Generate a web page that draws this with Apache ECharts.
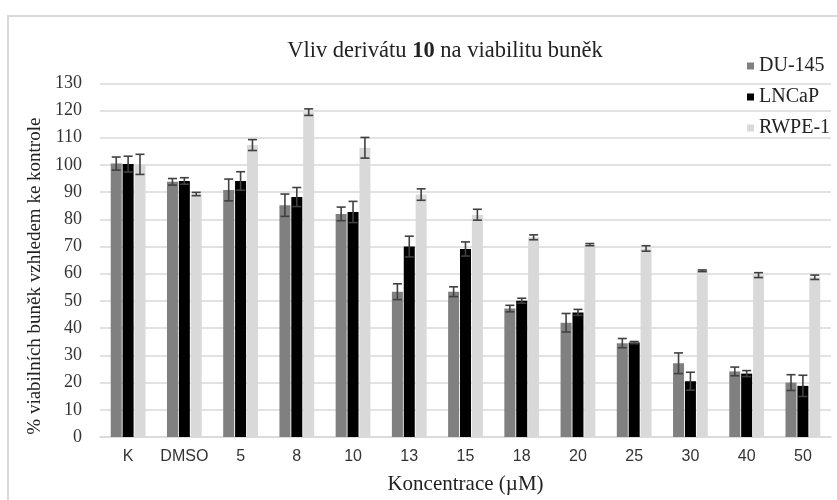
<!DOCTYPE html>
<html>
<head>
<meta charset="utf-8">
<script src="https://cdn.jsdelivr.net/npm/echarts@6/dist/echarts.min.js"></script>
<style>html,body{margin:0;padding:0;background:#fff;}#c{width:837px;height:500px;}</style>
</head>
<body>
<div id="c"></div>
<script>
const categories = ['K', 'DMSO', '5', '8', '10', '13', '15', '18', '20', '25', '30', '40', '50'];
const seriesNames = ['DU-145', 'LNCaP', 'RWPE-1'];
const du145 = [100.5, 93.8, 90.8, 85.2, 82.0, 53.4, 53.4, 47.2, 42.0, 34.5, 27.1, 24.1, 20.0];
const du145Err = [2.4, 1.2, 4.0, 4.1, 2.5, 2.9, 1.8, 1.2, 3.4, 1.7, 3.8, 1.6, 2.9];
const lncap = [100.3, 94.1, 94.1, 88.2, 82.7, 70.0, 69.1, 50.1, 45.8, 34.7, 20.5, 23.3, 18.8];
const lncapErr = [2.9, 1.2, 3.4, 3.5, 3.9, 3.8, 2.6, 0.9, 1.1, 0.4, 3.3, 1.1, 3.9];
const rwpe1 = [100.2, 89.3, 107.3, 119.4, 106.3, 89.1, 81.7, 73.4, 70.7, 69.3, 61.1, 59.5, 58.7];
const rwpe1Err = [3.7, 0.6, 2.0, 1.2, 3.8, 2.1, 2.0, 0.9, 0.4, 1.0, 0.3, 0.9, 0.8];
const yTicks = {min: 0, max: 130, interval: 10};

const values = [du145, lncap, rwpe1];
const errors = [du145Err, lncapErr, rwpe1Err];
const colors = ['#808080', '#000000', '#d9d9d9'];
const BAR_W = 11, GAP = 0.88;

const chart = echarts.init(document.getElementById('c'));
const serif = '"Liberation Serif", "Times New Roman", serif';
const sans = '"Liberation Sans", Arial, sans-serif';

const series = [];
values.forEach((vals, s) => {
  series.push({
    name: seriesNames[s], type: 'bar', data: vals, barWidth: BAR_W, barGap: '8%',
    itemStyle: {color: colors[s]}, z: 2
  });
});
values.forEach((vals, s) => {
  const offset = (s - 1) * (BAR_W + GAP);
  series.push({
    name: seriesNames[s] + ' err', type: 'custom', z: 5,
    data: vals.map((v, i) => [i, v - errors[s][i], v + errors[s][i]]),
    renderItem: function (params, api) {
      const lo = api.coord([api.value(0), api.value(1)]);
      const hi = api.coord([api.value(0), api.value(2)]);
      const x = lo[0] + offset, hw = 4.5;
      const st = {stroke: '#404040', lineWidth: 1.6};
      return {type: 'group', children: [
        {type: 'line', shape: {x1: x, y1: lo[1], x2: x, y2: hi[1]}, style: st},
        {type: 'line', shape: {x1: x - hw, y1: lo[1], x2: x + hw, y2: lo[1]}, style: st},
        {type: 'line', shape: {x1: x - hw, y1: hi[1], x2: x + hw, y2: hi[1]}, style: st}
      ]};
    },
    encode: {x: 0, y: [1, 2]},
    silent: true
  });
});

chart.setOption({
  backgroundColor: '#fff',
  animation: false,
  title: {
    text: 'Vliv derivátu {b|10} na viabilitu buněk',
    left: 440, top: 35, textAlign: 'center',
    textStyle: {
      fontFamily: serif, fontSize: 22.5, fontWeight: 'normal', color: '#222',
      rich: {b: {fontFamily: serif, fontSize: 22.5, fontWeight: 'bold', color: '#222'}}
    }
  },
  legend: {
    data: seriesNames, orient: 'vertical', left: 742, top: 51,
    itemWidth: 7, itemHeight: 7, itemGap: 11, icon: 'rect',
    textStyle: {fontFamily: serif, fontSize: 20, color: '#222', lineHeight: 20}
  },
  graphic: [{
    type: 'rect', shape: {x: 8, y: 16, width: 850, height: 520},
    style: {fill: 'none', stroke: '#d9d9d9', lineWidth: 2}, silent: true, z: -10
  }],
  grid: {left: 100, right: 6, top: 83.3, bottom: 57.3, containLabel: false},
  xAxis: {
    type: 'category', data: categories,
    name: 'Koncentrace (µM)', nameLocation: 'middle', nameGap: 37,
    nameTextStyle: {fontFamily: serif, fontSize: 21, color: '#222'},
    axisLine: {lineStyle: {color: '#d9d9d9', width: 1.5}},
    axisTick: {show: false},
    axisLabel: {fontFamily: sans, fontSize: 16, color: '#333', margin: 12, interval: 0}
  },
  yAxis: {
    type: 'value', min: yTicks.min, max: yTicks.max, interval: yTicks.interval,
    name: '% viabilních buněk vzhledem ke kontrole', nameLocation: 'middle', nameGap: 52,
    nameRotate: 90,
    nameTextStyle: {fontFamily: serif, fontSize: 19, color: '#222', padding: [0, 32, 0, 0]},
    axisLine: {show: false}, axisTick: {show: false},
    splitLine: {lineStyle: {color: '#d9d9d9', width: 1.5}},
    axisLabel: {fontFamily: serif, fontSize: 18, color: '#333', margin: 18}
  },
  series: series
});
</script>
</body>
</html>
